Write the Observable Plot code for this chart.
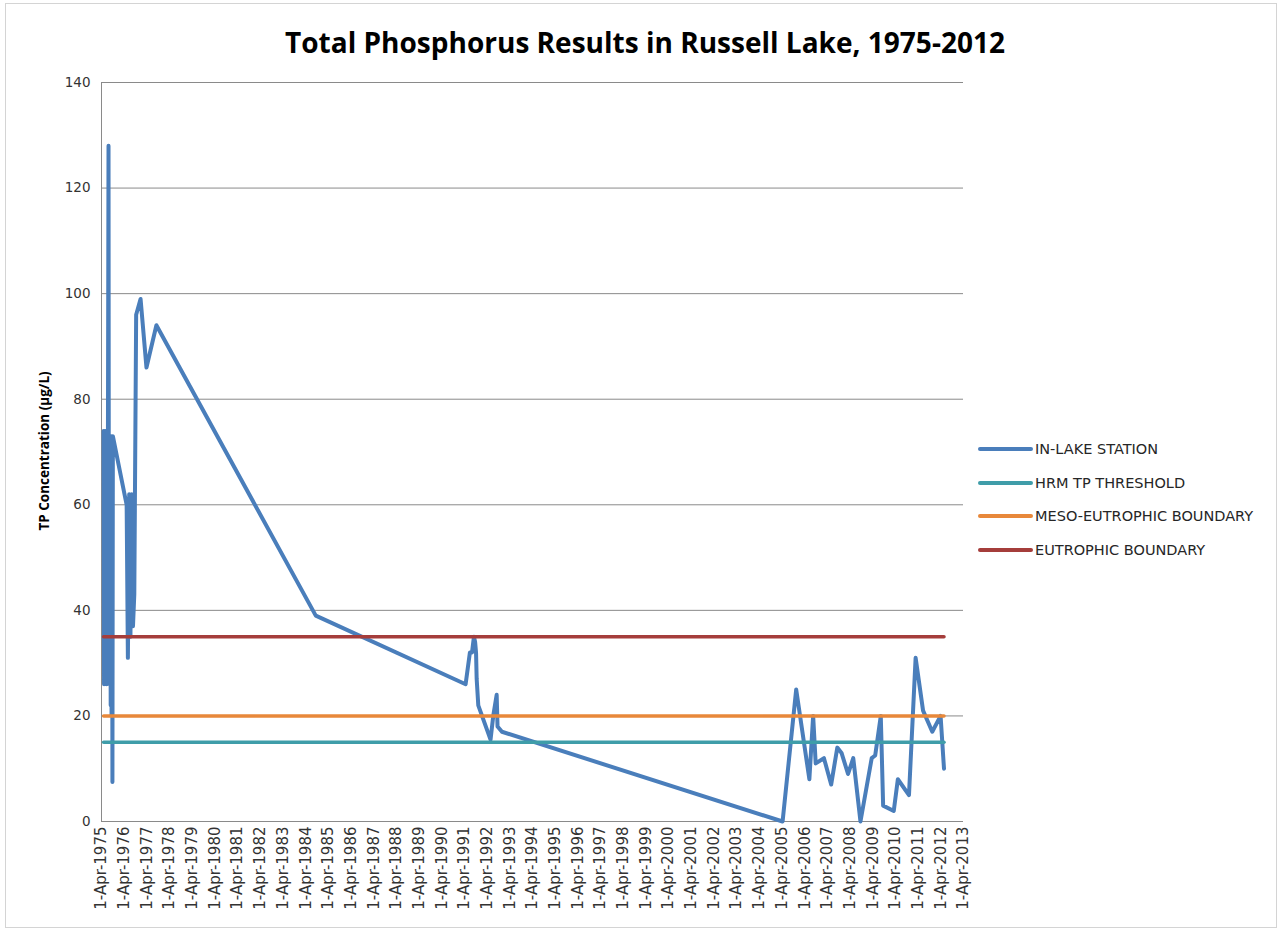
<!DOCTYPE html>
<html>
<head>
<meta charset="utf-8">
<script src="https://cdn.jsdelivr.net/npm/d3@7"></script>
<script src="https://cdn.jsdelivr.net/npm/@observablehq/plot@0.6"></script>
<style>
  html, body { margin: 0; padding: 0; background: #fff; }
  #wrap { position: relative; width: 1284px; height: 934px; overflow: hidden; background: #fff; }
  #border { position: absolute; left: 5px; top: 3px; width: 1272px; height: 925px; border: 1px solid #d4d4d4; box-sizing: border-box; }
  #chart { position: absolute; left: 0; top: 0; }
  #title { position: absolute; left: 0; top: 14px; }
  #ylabel { position: absolute; left: 44px; top: 451px; transform: translate(-50%, -50%) rotate(-90deg); font: bold 13.5px "Open Sans", sans-serif; color: #000; white-space: nowrap; }
  #legend { position: absolute; left: 978px; top: 432px; font: 14.5px "DejaVu Sans", sans-serif; color: #262626; }
  .row { display: flex; align-items: center; height: 33.7px; }
  .sw { width: 55px; height: 4px; margin-right: 2px; border-radius: 2px; }
</style>
</head>
<body>
<div id="wrap">
  <div id="border"></div>
  <div id="chart"></div>
  <svg id="title" width="1284" height="60"><text x="645" y="39" text-anchor="middle" textLength="720" lengthAdjust="spacingAndGlyphs" style="font: bold 29px 'Open Sans', sans-serif; fill:#000">Total Phosphorus Results in Russell Lake, 1975-2012</text></svg>
  <div id="ylabel">TP Concentration (µg/L)</div>
  <div id="legend"></div>
</div>
<script>
// ---- data ----
const sampleDates = [
  "1975-05-05","1975-05-12","1975-05-19","1975-05-26","1975-06-02","1975-06-09",
  "1975-06-16","1975-06-23","1975-06-30","1975-07-07","1975-07-14","1975-07-23",
  "1975-07-30","1975-08-06","1975-08-13","1975-08-20","1975-08-27","1975-09-03",
  "1975-09-10","1975-09-17","1975-09-24","1975-10-01",
  "1976-05-10","1976-05-30","1976-06-20","1976-07-10","1976-07-30","1976-08-20",
  "1976-09-10","1976-10-10","1976-12-20","1977-03-25","1977-09-01",
  "1984-09-10",
  "1991-04-20","1991-06-28","1991-08-01","1991-09-01","1991-09-20","1991-10-05",
  "1991-10-15","1991-11-10","1992-05-25","1992-07-08","1992-09-01","1992-09-15",
  "1992-11-25",
  "2005-04-10","2005-11-15","2006-06-15","2006-08-15","2006-09-25","2007-02-05",
  "2007-06-01","2007-09-08","2007-11-15","2008-02-28","2008-05-22","2008-09-15",
  "2009-03-15","2009-05-10","2009-08-08","2009-09-15","2010-03-05","2010-05-10",
  "2010-11-05","2011-02-20","2011-06-20","2011-11-15","2012-03-28","2012-05-22"
];
const inLakeTP = [
  74,26,73,27,74,28,
  72,26,73,27,74,128,
  30,72,26,70,22,73,
  20,72,7.5,73,
  60,31,62,35,62,37,
  43,96,99,86,94,
  39,
  26,32,32,35,34,32,
  27,22,15.5,20,24,18,
  17,
  0,25,8,20,11,12,
  7,14,13,9,12,0,
  12,12.5,20,3,2,8,
  5,31,21,17,20,10
];
const hrmThreshold = 15;
const mesoEutrophicBoundary = 20;
const eutrophicBoundary = 35;

const seriesNames = ["IN-LAKE STATION","HRM TP THRESHOLD","MESO-EUTROPHIC BOUNDARY","EUTROPHIC BOUNDARY"];
const seriesColors = ["#4A7EBB","#3F9DA9","#E8883A","#A53D3B"];

const tickYears = d3.range(1975, 2014);
const yTicks = [0,20,40,60,80,100,120,140];

// ---- build tables ----
const parse = s => new Date(s + "T00:00:00Z");
const lake = sampleDates.map((d, i) => ({date: parse(d), value: inLakeTP[i]}));
const first = lake[0].date, last = lake[lake.length - 1].date;
const flat = v => [{date: first, value: v}, {date: last, value: v}];
const xTicks = tickYears.map(y => new Date(Date.UTC(y, 3, 1)));
const xDomain = [xTicks[0], xTicks[xTicks.length - 1]];

const plot = Plot.plot({
  width: 1284,
  height: 934,
  marginLeft: 101,
  marginRight: 321,
  marginTop: 82,
  marginBottom: 113,
  style: {background: "transparent", fontFamily: "DejaVu Sans, sans-serif", color: "#333"},
  x: {type: "utc", domain: xDomain},
  y: {domain: [0, 140]},
  marks: [
    Plot.gridY(yTicks, {stroke: "#8a8a8a", strokeOpacity: 1}),
    Plot.ruleX([xDomain[0]], {stroke: "#8a8a8a"}),
    Plot.ruleY([0], {stroke: "#8a8a8a"}),
    Plot.axisY({ticks: yTicks, tickSize: 0, tickPadding: 11, fontSize: 13.5, label: null}),
    Plot.axisX({ticks: xTicks, tickSize: 0, tickPadding: 5, tickRotate: -90, fontSize: 15,
      tickFormat: d => `1-Apr-${d.getUTCFullYear()}`, label: null}),
    Plot.line(lake, {x: "date", y: "value", stroke: seriesColors[0], strokeWidth: 4, strokeLinejoin: "round"}),
    Plot.line(flat(hrmThreshold), {x: "date", y: "value", stroke: seriesColors[1], strokeWidth: 3.5}),
    Plot.line(flat(mesoEutrophicBoundary), {x: "date", y: "value", stroke: seriesColors[2], strokeWidth: 3.5}),
    Plot.line(flat(eutrophicBoundary), {x: "date", y: "value", stroke: seriesColors[3], strokeWidth: 3.5})
  ]
});
document.getElementById("chart").appendChild(plot);

const legend = document.getElementById("legend");
seriesNames.forEach((name, i) => {
  const row = document.createElement("div");
  row.className = "row";
  const sw = document.createElement("div");
  sw.className = "sw";
  sw.style.background = seriesColors[i];
  const t = document.createElement("span");
  t.textContent = name;
  row.appendChild(sw); row.appendChild(t);
  legend.appendChild(row);
});
</script>
</body>
</html>
